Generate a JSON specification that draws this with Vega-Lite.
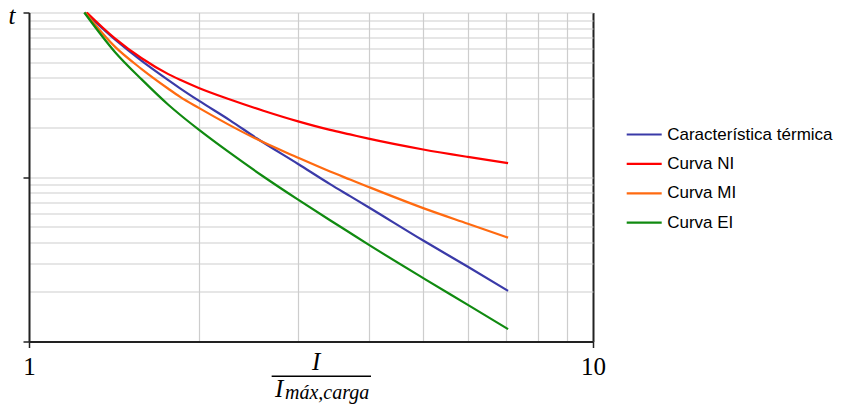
{
  "$schema": "https://vega.github.io/schema/vega-lite/v6.json",
  "width": 564,
  "height": 329,
  "autosize": "none",
  "padding": {"left": 29, "top": 12.5, "right": 255, "bottom": 63.5},
  "background": "white",
  "config": {"view": {"stroke": null}},
  "layer": [
    {
      "data": {
        "values": [
          {"s": "Característica térmica", "x": 1.257, "t": 100},
          {"s": "Característica térmica", "x": 1.42, "t": 68.6},
          {"s": "Característica térmica", "x": 1.584, "t": 50.8},
          {"s": "Característica térmica", "x": 1.766, "t": 38.8},
          {"s": "Característica térmica", "x": 1.853, "t": 34.6},
          {"s": "Característica térmica", "x": 2.0, "t": 29.1},
          {"s": "Característica térmica", "x": 2.272, "t": 22.1},
          {"s": "Característica térmica", "x": 2.533, "t": 17.2},
          {"s": "Característica térmica", "x": 3.0, "t": 12.0},
          {"s": "Característica térmica", "x": 3.418, "t": 9.05},
          {"s": "Característica térmica", "x": 3.709, "t": 7.65},
          {"s": "Característica térmica", "x": 4.0, "t": 6.55},
          {"s": "Característica térmica", "x": 5.0, "t": 4.11},
          {"s": "Característica térmica", "x": 6.0, "t": 2.85},
          {"s": "Característica térmica", "x": 7.07, "t": 2.03},
          {"s": "Curva NI", "x": 1.266, "t": 100},
          {"s": "Curva NI", "x": 1.42, "t": 69.6},
          {"s": "Curva NI", "x": 1.584, "t": 52.7},
          {"s": "Curva NI", "x": 1.766, "t": 42.2},
          {"s": "Curva NI", "x": 1.853, "t": 39.0},
          {"s": "Curva NI", "x": 2.0, "t": 34.8},
          {"s": "Curva NI", "x": 2.272, "t": 29.6},
          {"s": "Curva NI", "x": 2.603, "t": 25.3},
          {"s": "Curva NI", "x": 3.0, "t": 21.8},
          {"s": "Curva NI", "x": 3.418, "t": 19.35},
          {"s": "Curva NI", "x": 3.709, "t": 18.15},
          {"s": "Curva NI", "x": 4.0, "t": 17.1},
          {"s": "Curva NI", "x": 5.0, "t": 14.7},
          {"s": "Curva NI", "x": 6.0, "t": 13.25},
          {"s": "Curva NI", "x": 7.07, "t": 12.15},
          {"s": "Curva MI", "x": 1.257, "t": 100},
          {"s": "Curva MI", "x": 1.42, "t": 62.0},
          {"s": "Curva MI", "x": 1.584, "t": 45.3},
          {"s": "Curva MI", "x": 1.766, "t": 34.4},
          {"s": "Curva MI", "x": 1.853, "t": 30.7},
          {"s": "Curva MI", "x": 2.0, "t": 26.3},
          {"s": "Curva MI", "x": 2.272, "t": 20.6},
          {"s": "Curva MI", "x": 2.533, "t": 17.0},
          {"s": "Curva MI", "x": 3.0, "t": 13.1},
          {"s": "Curva MI", "x": 3.418, "t": 10.8},
          {"s": "Curva MI", "x": 3.709, "t": 9.65},
          {"s": "Curva MI", "x": 4.0, "t": 8.7},
          {"s": "Curva MI", "x": 5.0, "t": 6.47},
          {"s": "Curva MI", "x": 6.0, "t": 5.2},
          {"s": "Curva MI", "x": 7.07, "t": 4.28},
          {"s": "Curva EI", "x": 1.253, "t": 100},
          {"s": "Curva EI", "x": 1.42, "t": 57.6},
          {"s": "Curva EI", "x": 1.584, "t": 39.2},
          {"s": "Curva EI", "x": 1.766, "t": 27.5},
          {"s": "Curva EI", "x": 1.853, "t": 23.9},
          {"s": "Curva EI", "x": 2.0, "t": 19.4},
          {"s": "Curva EI", "x": 2.272, "t": 14.0},
          {"s": "Curva EI", "x": 2.603, "t": 10.07},
          {"s": "Curva EI", "x": 3.0, "t": 7.28},
          {"s": "Curva EI", "x": 3.418, "t": 5.46},
          {"s": "Curva EI", "x": 3.659, "t": 4.71},
          {"s": "Curva EI", "x": 4.0, "t": 3.88},
          {"s": "Curva EI", "x": 5.0, "t": 2.43},
          {"s": "Curva EI", "x": 6.0, "t": 1.67},
          {"s": "Curva EI", "x": 7.07, "t": 1.19}
        ]
      },
      "mark": {"type": "line", "strokeWidth": 2.2, "interpolate": "monotone"},
      "encoding": {
        "x": {
          "field": "x",
          "type": "quantitative",
          "scale": {"type": "log", "domain": [1, 10], "nice": false},
          "axis": {
            "values": [1, 2, 3, 4, 5, 6, 7, 8, 9, 10],
            "title": null,
            "format": "~g",
            "labelExpr": "datum.value == 1 || datum.value == 10 ? datum.label : ''",
            "labelFont": "Liberation Serif",
            "labelFontSize": 25,
            "labelColor": "black",
            "labelBaseline": "alphabetic",
            "labelPadding": 26.5,
            "labelFlush": false,
            "labelOverlap": false,
            "tickSize": 6,
            "tickColor": "#222222",
            "tickWidth": 1.5,
            "tickOpacity": {"condition": {"test": "datum.value == 1 || datum.value == 10", "value": 1}, "value": 0},
            "domainColor": "#222222",
            "domainWidth": 2,
            "grid": true,
            "gridColor": {"condition": {"test": "datum.value == 10", "value": "#222222"}, "value": "#cdcdcd"},
            "gridWidth": {"condition": {"test": "datum.value == 10", "value": 2}, "value": 1.2}
          }
        },
        "y": {
          "field": "t",
          "type": "quantitative",
          "scale": {"type": "log", "domain": [1, 100], "nice": false},
          "axis": {
            "values": [1, 2, 3, 4, 5, 6, 7, 8, 9, 10, 20, 30, 40, 50, 60, 70, 80, 90, 100],
            "labels": false,
            "title": "t",
            "titleAngle": 0,
            "titleX": -17.5,
            "titleY": 10.5,
            "titleAlign": "center",
            "titleBaseline": "alphabetic",
            "titleFont": "Liberation Serif",
            "titleFontStyle": "italic",
            "titleFontWeight": "normal",
            "titleFontSize": 25,
            "titleColor": "black",
            "tickSize": 6,
            "tickColor": "#222222",
            "tickWidth": 1.5,
            "tickOpacity": {"condition": {"test": "datum.value == 1 || datum.value == 10 || datum.value == 100", "value": 1}, "value": 0},
            "domainColor": "#222222",
            "domainWidth": 2,
            "grid": true,
            "gridColor": "#cdcdcd",
            "gridWidth": 1.2
          }
        },
        "color": {
          "field": "s",
          "type": "nominal",
          "scale": {
            "domain": ["Característica térmica", "Curva NI", "Curva MI", "Curva EI"],
            "range": ["#3a3aa8", "#ff0000", "#ff6a10", "#108a10"]
          },
          "legend": {
            "orient": "none",
            "legendX": 596.2,
            "legendY": 103,
            "title": null,
            "padding": 0,
            "symbolType": "stroke",
            "symbolSize": 1225,
            "symbolStrokeWidth": 2.2,
            "labelFont": "Liberation Sans",
            "labelFontSize": 17,
            "labelColor": "black",
            "labelOffset": 4,
            "labelLimit": 300,
            "rowPadding": 2.4
          }
        }
      }
    },
    {
      "data": {"values": [{"label": "I"}]},
      "mark": {"type": "text", "font": "Liberation Serif", "fontStyle": "italic", "fontSize": 25, "color": "black", "align": "center", "baseline": "alphabetic"},
      "encoding": {
        "x": {"datum": 3.228, "type": "quantitative"},
        "y": {"datum": 0.668, "type": "quantitative"},
        "text": {"field": "label"}
      }
    },
    {
      "data": {"values": [{}]},
      "mark": {"type": "rule", "color": "black", "strokeWidth": 1.5},
      "encoding": {
        "x": {"datum": 2.693, "type": "quantitative"},
        "x2": {"datum": 4.04},
        "y": {"datum": 0.6141, "type": "quantitative"}
      }
    },
    {
      "data": {"values": [{"label": "I"}]},
      "mark": {"type": "text", "font": "Liberation Serif", "fontStyle": "italic", "fontSize": 25, "color": "black", "align": "left", "baseline": "alphabetic"},
      "encoding": {
        "x": {"datum": 2.731, "type": "quantitative"},
        "y": {"datum": 0.4595, "type": "quantitative"},
        "text": {"field": "label"}
      }
    },
    {
      "data": {"values": [{"label": "máx,carga"}]},
      "mark": {"type": "text", "font": "Liberation Serif", "fontStyle": "italic", "fontSize": 20, "color": "black", "align": "left", "baseline": "alphabetic"},
      "encoding": {
        "x": {"datum": 2.844, "type": "quantitative"},
        "y": {"datum": 0.4467, "type": "quantitative"},
        "text": {"field": "label"}
      }
    }
  ]
}
